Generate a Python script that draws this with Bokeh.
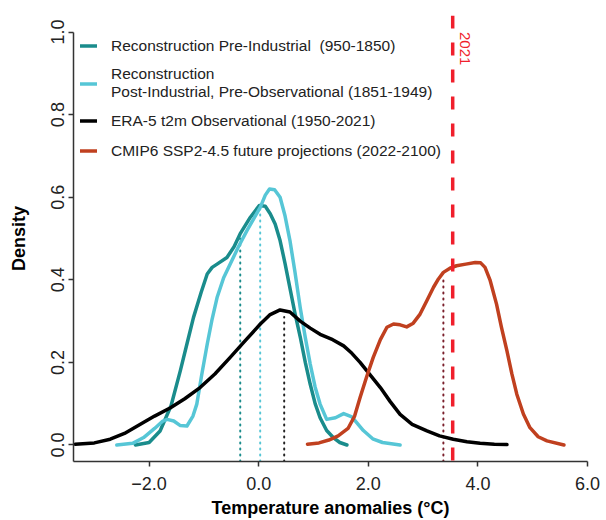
import math
from bokeh.plotting import figure
from bokeh.models import Legend, LegendItem, Span, Label, FixedTicker, Range1d, ColumnDataSource
from bokeh.embed import file_html
from bokeh.resources import INLINE

# ---- data ----
pre_x = [-2.25, -2.0, -1.80, -1.6, -1.43, -1.3, -1.19, -1.05, -0.94, -0.85, -0.76, -0.58, -0.45,
         -0.34, -0.155, 0.01, 0.12, 0.21, 0.30, 0.39, 0.48, 0.57, 0.66, 0.76, 0.85, 0.94, 1.03,
         1.12, 1.24, 1.36, 1.48, 1.61]
pre_y = [0.0, 0.006, 0.034, 0.095, 0.18, 0.25, 0.309, 0.37, 0.414, 0.43, 0.438, 0.454, 0.48,
         0.511, 0.551, 0.58, 0.578, 0.56, 0.535, 0.495, 0.44, 0.38, 0.32, 0.26, 0.20, 0.147, 0.10,
         0.066, 0.035, 0.018, 0.006, 0.0]

post_x = [-2.59, -2.3, -2.1, -1.9, -1.75, -1.67, -1.55, -1.43, -1.31, -1.2, -1.13, -1.04, -0.94,
          -0.85, -0.76, -0.64, -0.52, -0.37, -0.215, -0.09, 0.03, 0.12, 0.197, 0.29, 0.39, 0.48,
          0.57, 0.66, 0.757, 0.85, 0.94, 1.03, 1.12, 1.24, 1.40, 1.55, 1.70, 1.91, 2.08, 2.26, 2.58]
post_y = [0.0, 0.004, 0.018, 0.04, 0.058, 0.062, 0.058, 0.047, 0.046, 0.07, 0.099, 0.17, 0.244,
          0.305, 0.357, 0.405, 0.438, 0.48, 0.519, 0.548, 0.576, 0.605, 0.62, 0.618, 0.60, 0.555,
          0.495, 0.42, 0.333, 0.26, 0.196, 0.14, 0.099, 0.062, 0.066, 0.076, 0.068, 0.035, 0.015,
          0.006, 0.0]

era_x = [-3.35, -3.0, -2.71, -2.45, -2.16, -1.9, -1.61, -1.35, -1.07, -0.8, -0.52, -0.25, 0.03,
         0.2, 0.39, 0.57, 0.757, 0.94, 1.12, 1.35, 1.55, 1.70, 1.85, 2.0, 2.22, 2.4, 2.58, 2.8,
         3.07, 3.3, 3.55, 3.8, 4.04, 4.3, 4.53]
era_y = [0.002, 0.005, 0.014, 0.028, 0.05, 0.07, 0.09, 0.112, 0.139, 0.172, 0.212, 0.252, 0.293,
         0.315, 0.327, 0.322, 0.30, 0.283, 0.268, 0.255, 0.24, 0.222, 0.2, 0.175, 0.139, 0.105,
         0.074, 0.05, 0.034, 0.022, 0.014, 0.008, 0.004, 0.002, 0.001]

cmip_x = [0.89, 1.1, 1.28, 1.45, 1.63, 1.75, 1.85, 1.97, 2.09, 2.22, 2.34, 2.46, 2.58, 2.70, 2.82,
          2.945, 3.07, 3.19, 3.28, 3.37, 3.49, 3.61, 3.78, 3.95, 4.05, 4.13, 4.22, 4.34, 4.43,
          4.53, 4.62, 4.71, 4.83, 4.95, 5.1, 5.26, 5.57]
cmip_y = [0.002, 0.005, 0.012, 0.022, 0.04, 0.07, 0.115, 0.165, 0.212, 0.255, 0.285, 0.293, 0.291,
          0.286, 0.295, 0.317, 0.35, 0.382, 0.402, 0.418, 0.428, 0.434, 0.438, 0.442, 0.441, 0.43,
          0.40, 0.341, 0.285, 0.228, 0.172, 0.123, 0.075, 0.042, 0.02, 0.01, 0.0]

mean_x = [-0.337, 0.027, 0.465, 3.37]
mean_top = [0.507, 0.576, 0.31, 0.406]
year_2021_x = 3.54
year_label = "2021"

series_names = [
    "Reconstruction Pre-Industrial  (950-1850)",
    "Reconstruction\nPost-Industrial, Pre-Observational (1851-1949)",
    "ERA-5 t2m Observational (1950-2021)",
    "CMIP6 SSP2-4.5 future projections (2022-2100)",
]
series_colors = ["#1a8c8c", "#56c6d6", "#000000", "#c0401f"]
mean_colors = ["#1a8c8c", "#56c6d6", "#222222", "#7a1f2b"]

x_ticks = [-2, 0, 2, 4, 6]
x_tick_labels = ["\u22122.0", "0.0", "2.0", "4.0", "6.0"]
y_ticks = [0.0, 0.2, 0.4, 0.6, 0.8, 1.0]
y_tick_labels = ["0.0", "0.2", "0.4", "0.6", "0.8", "1.0"]

FONT = "Liberation Sans"

p = figure(width=606, height=520, x_range=Range1d(-3.38, 6.0), y_range=Range1d(-0.04, 1.04),
           output_backend="svg", toolbar_location=None,
           min_border_left=73, min_border_right=19, min_border_top=15, min_border_bottom=59)
p.outline_line_color = None
p.grid.visible = False
p.background_fill_color = "white"

# dotted mean lines
msrc = ColumnDataSource(dict(x=mean_x, y0=[-0.04] * len(mean_x), y1=mean_top, c=mean_colors))
p.segment(x0="x", y0="y0", x1="x", y1="y1", color="c", source=msrc,
          line_width=2, line_dash="1 5", line_cap="round")

renderers = []
for xs, ys, col in [(pre_x, pre_y, series_colors[0]), (post_x, post_y, series_colors[1]),
                    (era_x, era_y, series_colors[2]), (cmip_x, cmip_y, series_colors[3])]:
    r = p.line(xs, ys, line_color=col, line_width=3.5, line_join="round", line_cap="round")
    renderers.append(r)

# 2021 dashed line
p.add_layout(Span(location=year_2021_x, dimension="height", line_color="#f01f2c",
                  line_width=3.5, line_dash="13 14"))
p.add_layout(Label(x=year_2021_x, y=1.0, x_offset=12, text=year_label, angle=-math.pi / 2,
                   text_align="left", text_baseline="middle", text_color="#f01f2c",
                   text_font=FONT, text_font_size="15px"))

# axes
xa = p.xaxis[0]
xa.ticker = FixedTicker(ticks=x_ticks)
xa.major_label_overrides = {t: l for t, l in zip(x_ticks, x_tick_labels)}
xa.bounds = (-3.38, 6.0)
xa.axis_label = "Temperature anomalies (\u00b0C)"
ya = p.yaxis[0]
ya.ticker = FixedTicker(ticks=y_ticks)
ya.major_label_overrides = {t: l for t, l in zip(y_ticks, y_tick_labels)}
ya.bounds = (-0.04, 1.0)
ya.axis_label = "Density"
ya.major_label_orientation = "vertical"
for ax in (xa, ya):
    ax.minor_tick_line_color = None
    ax.major_tick_in = 0
    ax.major_tick_out = 5
    ax.axis_line_color = "#333333"
    ax.axis_line_width = 1.5
    ax.major_tick_line_color = "#333333"
    ax.major_tick_line_width = 1.5
    ax.major_label_text_font = FONT
    ax.major_label_text_font_size = "18px"
    ax.major_label_text_color = "#222222"
    ax.axis_label_text_font = FONT
    ax.axis_label_text_font_style = "bold"
    ax.axis_label_text_font_size = "18px"
    ax.axis_label_text_color = "#000000"
xa.major_label_standoff = 10
xa.axis_label_standoff = 5
ya.major_label_standoff = 4
ya.axis_label_standoff = 20

legend = Legend(items=[LegendItem(label=n, renderers=[r]) for n, r in zip(series_names, renderers)],
                location=(7, 300), border_line_color=None, background_fill_alpha=0,
                padding=0, margin=0, spacing=9, glyph_width=17, glyph_height=21,
                label_height=21, label_standoff=14, label_text_font=FONT,
                label_text_font_size="15.5px", label_text_color="#222222")
p.add_layout(legend)

open("out.html", "w").write(file_html(p, INLINE))
